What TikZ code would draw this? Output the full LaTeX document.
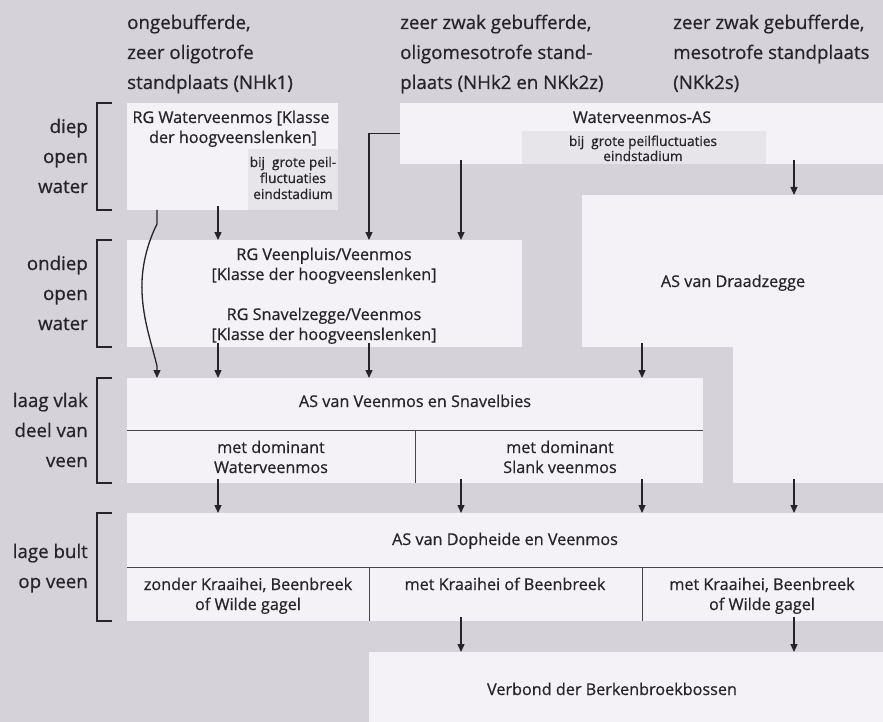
\documentclass[tikz,border=0pt]{standalone}
\usepackage{fontspec}
\setmainfont{Open Sans}[RawFeature={embolden=0.6}]
\usetikzlibrary{arrows.meta}
\definecolor{bg}{RGB}{214,210,218}
\definecolor{boxwhite}{RGB}{244,242,246}
\definecolor{subgray}{RGB}{231,228,234}
\definecolor{ink}{RGB}{38,35,41}
\tikzset{
  box/.style={fill=boxwhite, draw=none, inner sep=0pt, outer sep=0pt, anchor=north west, rectangle},
  subbox/.style={fill=subgray, draw=none, inner sep=0pt, outer sep=0pt, anchor=north west, rectangle},
  hdr/.style={anchor=base west, inner sep=0pt, text=ink, font=\fontsize{18.7}{22}\selectfont},
  lbl/.style={anchor=base east, inner sep=0pt, text=ink, font=\fontsize{18.7}{22}\selectfont},
  bt/.style={anchor=base, inner sep=0pt, text=ink, font=\fontsize{16.2}{19}\selectfont},
  st/.style={anchor=base, inner sep=0pt, text=ink, font=\fontsize{13.6}{15}\selectfont},
  arr/.style={draw=ink, line width=1.3pt, -{Triangle[length=8pt,width=7pt]}, shorten <=-4pt},
  brk/.style={draw=ink, line width=1.3pt},
  divl/.style={draw=ink!85, line width=0.9pt}
}
\begin{document}
\begin{tikzpicture}[x=1pt,y=-1pt]
\useasboundingbox (0,0) rectangle (883,722);
\fill[bg] (0,0) rectangle (883,722);

% column coordinates
\coordinate (k0) at (157,0);
\coordinate (k1) at (218,0);
\coordinate (k2) at (369,0);
\coordinate (k3) at (461,0);
\coordinate (k4) at (642,0);
\coordinate (k5) at (794,0);

% headers
\node[hdr] (h1a) at (127,29) {ongebufferde,};
\node[hdr] (h1b) at (127,59) {zeer oligotrofe};
\node[hdr] (h1c) at (127,89) {standplaats (NHk1)};
\node[hdr] (h2a) at (400,29) {zeer zwak gebufferde,};
\node[hdr] (h2b) at (400,59) {oligomesotrofe stand-};
\node[hdr] (h2c) at (400,89) {plaats (NHk2 en NKk2z)};
\node[hdr] (h3a) at (673,29) {zeer zwak gebufferde,};
\node[hdr] (h3b) at (673,59) {mesotrofe standplaats};
\node[hdr] (h3c) at (673,89) {(NKk2s)};

% boxes
\node[box, minimum width=211pt, minimum height=107pt] (b1) at (127,103) {};
\node[subbox, minimum width=90pt, minimum height=61pt] (b1s) at (248,149) {};
\node[box, minimum width=483pt, minimum height=61pt] (b2) at (400,103) {};
\node[subbox, minimum width=244pt, minimum height=33pt] (b2s) at (522,131) {};
\node[box, minimum width=395pt, minimum height=107pt] (b3) at (127,240) {};
\node[box, minimum width=301pt, minimum height=152pt] (b4) at (582,195) {};
\node[box, minimum width=150pt, minimum height=137pt] (b4b) at (733,346) {};
\node[box, minimum width=576pt, minimum height=105pt] (b5) at (127,378) {};
\node[box, minimum width=756pt, minimum height=108pt] (b6) at (127,513) {};
\node[box, minimum width=514pt, minimum height=70pt] (b7) at (369,652) {};

% dividers
\draw[divl] (b5.west |- 0,430) -- (b5.east |- 0,430);
\draw[divl] (415,430) -- (b5.south -| 415,0);
\draw[divl] (b6.west |- 0,567) -- (b6.east |- 0,567);
\draw[divl] (k2 |- 0,567) -- (b6.south -| k2);
\draw[divl] (k4 |- 0,567) -- (b6.south -| k4);

% box texts
\node[bt] (t1a) at (231,123) {RG Waterveenmos [Klasse};
\node[bt] (t1b) at (233,143) {der hoogveenslenken]};
\node[st] (s1a) at (293,167) {bij\ \ grote peil-};
\node[st] (s1b) at (293,183) {fluctuaties};
\node[st] (s1c) at (293,199) {eindstadium};
\node[bt] (t2) at (642,123) {Waterveenmos-AS};
\node[st] (s2a) at (643,146) {bij\ \ grote peilfluctuaties};
\node[st] (s2b) at (643,161) {eindstadium};
\node[bt] (t3a) at (324,260) {RG Veenpluis/Veenmos};
\node[bt] (t3b) at (324,280) {[Klasse der hoogveenslenken]};
\node[bt] (t3c) at (324,320) {RG Snavelzegge/Veenmos};
\node[bt] (t3d) at (324,340) {[Klasse der hoogveenslenken]};
\node[bt] (t4) at (733,287) {AS van Draadzegge};
\node[bt] (t5) at (415,407) {AS van Veenmos en Snavelbies};
\node[bt] (t5a) at (271,453) {met dominant};
\node[bt] (t5b) at (271,473) {Waterveenmos};
\node[bt] (t5c) at (560,453) {met dominant};
\node[bt] (t5d) at (560,473) {Slank veenmos};
\node[bt] (t6) at (505,545) {AS van Dopheide en Veenmos};
\node[bt] (t6a) at (248,590) {zonder Kraaihei, Beenbreek};
\node[bt] (t6b) at (248,610) {of Wilde gagel};
\node[bt] (t6c) at (505,590) {met Kraaihei of Beenbreek};
\node[bt] (t6d) at (762,590) {met Kraaihei, Beenbreek};
\node[bt] (t6e) at (762,610) {of Wilde gagel};
\node[bt] (t7) at (612,695) {Verbond der Berkenbroekbossen};

% left labels and brackets
\node[lbl] (l1a) at (88,133) {diep};
\node[lbl] (l1b) at (88,163) {open};
\node[lbl] (l1c) at (88,193) {water};
\node[lbl] (l2a) at (88,270) {ondiep};
\node[lbl] (l2b) at (88,300) {open};
\node[lbl] (l2c) at (88,330) {water};
\node[lbl] (l3a) at (88,407) {laag vlak};
\node[lbl] (l3b) at (88,437) {deel van};
\node[lbl] (l3c) at (88,467) {veen};
\node[lbl] (l4a) at (88,558) {lage bult};
\node[lbl] (l4b) at (88,588) {op veen};
\draw[brk] (112,103) -- (97,103) -- (97,210) -- (112,210);
\draw[brk] (112,240) -- (97,240) -- (97,347) -- (112,347);
\draw[brk] (112,378) -- (97,378) -- (97,483) -- (112,483);
\draw[brk] (112,513) -- (97,513) -- (97,621) -- (112,621);

% connectors
\draw[arr] (b1.south -| k1) -- (b3.north -| k1);
\draw[arr, shorten <=0pt] (b1.south -| k0) -- (157,224)
  .. controls (147,244) and (141,268) .. (142,292)
  .. controls (143,320) and (152,345) .. (157,366) -- (b5.north -| k0);
\draw[arr, shorten <=0pt] (b2.west) -| (b3.north -| k2);
\draw[arr] (b2.south -| k3) -- (b3.north -| k3);
\draw[arr] (b2.south -| k5) -- (b4.north -| k5);
\draw[arr] (b3.south -| k1) -- (b5.north -| k1);
\draw[arr] (b3.south -| k2) -- (b5.north -| k2);
\draw[arr] (b4.south -| k4) -- (b5.north -| k4);
\draw[arr] (b5.south -| k1) -- (b6.north -| k1);
\draw[arr] (b5.south -| k3) -- (b6.north -| k3);
\draw[arr] (b5.south -| k4) -- (b6.north -| k4);
\draw[arr] (b4b.south -| k5) -- (b6.north -| k5);
\draw[arr] (b6.south -| k3) -- (b7.north -| k3);
\draw[arr] (b6.south -| k5) -- (b7.north -| k5);
\end{tikzpicture}
\end{document}
